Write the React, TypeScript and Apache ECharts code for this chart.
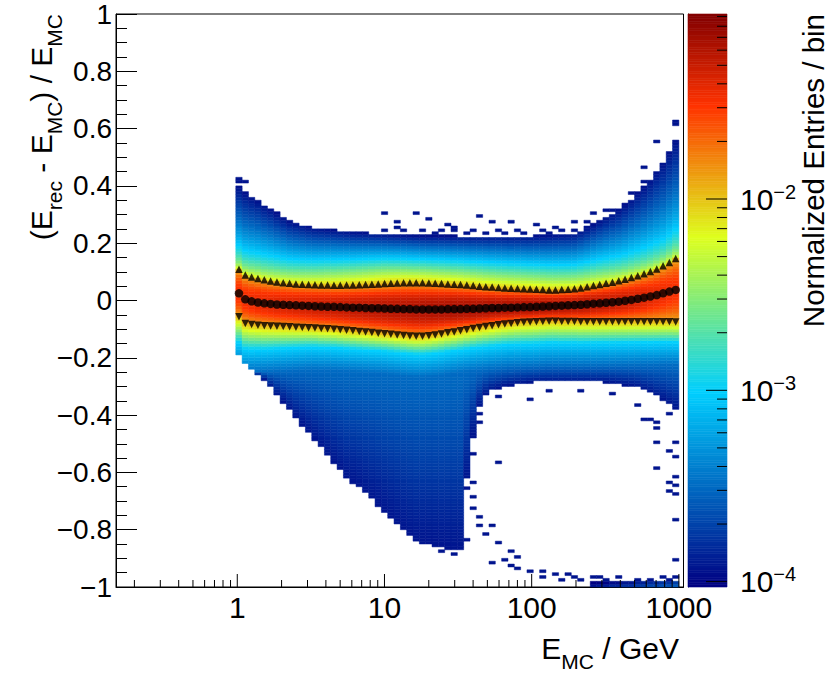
import React, { useEffect, useRef } from "react";
import * as echarts from "echarts";

const FONT = '"Liberation Sans", Arial, Helvetica, sans-serif';

// ---------- binning of the 2D histogram ----------
const xBinLogLo = -0.01;
const xBinLogHi = 3.0;
const xBinCount = 70;
const yBinLo = -1;
const yBinHi = 1;
const yBinCount = 200;

// ---------- colour (z) scale, log10 of normalized entries ----------
const zLogMin = -4.028;
const zLogMax = -1.033;
const paletteStops = [0, 0.34, 0.61, 0.84, 1];
const paletteRGB = [
  [0, 0, 130],
  [0, 207, 255],
  [222, 255, 31],
  [255, 51, 0],
  [130, 0, 0],
];

// ---------- profile markers (one per x bin) ----------
const meanValues = [
  0.025, 0.004, -0.003, -0.007, -0.01, -0.012, -0.014, -0.015, -0.016, -0.017,
  -0.018, -0.019, -0.02, -0.021, -0.022, -0.022, -0.023, -0.024, -0.025, -0.025,
  -0.026, -0.027, -0.027, -0.028, -0.029, -0.029, -0.03, -0.03, -0.031, -0.031,
  -0.031, -0.031, -0.031, -0.03, -0.03, -0.03, -0.029, -0.029, -0.028, -0.027,
  -0.026, -0.026, -0.025, -0.025, -0.024, -0.023, -0.023, -0.022, -0.021, -0.02,
  -0.019, -0.018, -0.017, -0.016, -0.015, -0.013, -0.011, -0.01, -0.008, -0.006,
  -0.004, -0.001, 0.002, 0.006, 0.01, 0.014, 0.019, 0.025, 0.031, 0.037,
];
const upperValues = [
  0.109, 0.089, 0.082, 0.077, 0.072, 0.068, 0.065, 0.062, 0.06, 0.058,
  0.057, 0.056, 0.055, 0.054, 0.054, 0.053, 0.053, 0.054, 0.054, 0.055,
  0.056, 0.057, 0.058, 0.059, 0.06, 0.061, 0.062, 0.062, 0.062, 0.062,
  0.061, 0.06, 0.059, 0.058, 0.057, 0.056, 0.054, 0.052, 0.05, 0.048,
  0.047, 0.045, 0.044, 0.043, 0.042, 0.041, 0.04, 0.039, 0.038, 0.037,
  0.037, 0.038, 0.039, 0.041, 0.044, 0.048, 0.052, 0.056, 0.06, 0.064,
  0.069, 0.074, 0.08, 0.086, 0.093, 0.101, 0.11, 0.121, 0.133, 0.147,
];
const lowerValues = [
  -0.057, -0.08, -0.084, -0.086, -0.088, -0.089, -0.09, -0.091, -0.092, -0.093,
  -0.094, -0.095, -0.096, -0.098, -0.099, -0.1, -0.102, -0.104, -0.106, -0.108,
  -0.11, -0.112, -0.114, -0.116, -0.118, -0.12, -0.122, -0.124, -0.125, -0.125,
  -0.123, -0.12, -0.117, -0.113, -0.11, -0.106, -0.102, -0.098, -0.094, -0.091,
  -0.088, -0.085, -0.082, -0.08, -0.078, -0.076, -0.075, -0.074, -0.073, -0.072,
  -0.072, -0.073, -0.073, -0.073, -0.074, -0.074, -0.074, -0.074, -0.074, -0.074,
  -0.074, -0.074, -0.074, -0.074, -0.074, -0.074, -0.074, -0.074, -0.074, -0.075,
];

// ---------- shape of the distribution, read at log10(E_MC) positions ----------
const topEdgeLogE = [0.012, 0.055, 0.098, 0.141, 0.184, 0.227, 0.27, 0.313, 0.356, 0.5, 0.75, 1.0, 1.25, 1.5, 2.0, 2.3, 2.4, 2.5, 2.6, 2.7, 2.8, 2.9, 2.98];
const topEdgeY = [0.4, 0.376, 0.362, 0.35, 0.333, 0.32, 0.305, 0.29, 0.277, 0.255, 0.24, 0.232, 0.226, 0.225, 0.225, 0.235, 0.26, 0.29, 0.32, 0.365, 0.42, 0.49, 0.56];

const bottomEdgeLogE = [0.012, 0.055, 0.1, 0.174, 0.288, 0.4, 0.514, 0.627, 0.74, 0.854, 0.967, 1.08, 1.217, 1.35, 1.5, 1.53, 1.56, 1.61, 1.65, 1.7, 1.8, 2.0, 2.5, 2.7, 2.8, 2.9, 2.98];
const bottomEdgeY = [-0.185, -0.225, -0.245, -0.27, -0.34, -0.41, -0.48, -0.55, -0.62, -0.665, -0.72, -0.78, -0.845, -0.86, -0.875, -0.87, -0.62, -0.44, -0.36, -0.32, -0.3, -0.285, -0.285, -0.3, -0.32, -0.35, -0.38];

const peakLogE = [0, 0.3, 0.7, 1.0, 1.5, 2.0, 2.4, 2.7, 3.0];
const peakLevel = [-1.48, -1.36, -1.27, -1.22, -1.17, -1.17, -1.22, -1.33, -1.5];

const upperTailLogE = [0, 0.3, 0.7, 1.0, 1.5, 2.0, 2.3, 2.6, 2.9, 3.0];
const upperTailShape = [0.5, 0.65, 0.85, 0.95, 0.9, 0.85, 0.78, 0.6, 0.46, 0.45];

const lowerGapLogE = [0, 0.2, 0.5, 1.0, 1.5, 2.0, 3.0];
const lowerGapWidth = [0.09, 0.08, 0.065, 0.06, 0.065, 0.075, 0.07];

const levelAtTriangles = -1.95;
const levelAtCyan = -3.0;
const levelPlateau = -3.5;
const plateauDrop = 0.08;
const levelAtEdge = -3.95;
const levelAtBottom = -3.93;

// bottom strip near -1 (first x bin index and levels per bin)
const stripFirstBin = 56;
const stripLevels = [-3.95, -3.9, -3.9, -3.85, -3.85, -3.8, -3.8, -3.75, -3.75, -3.7, -3.7, -3.65, -3.65, -3.6];

// isolated, sparsely filled bins [E_MC (GeV), (E_rec-E_MC)/E_MC]
const sparseBins: [number, number][] = [
  [1.03, 0.425], [1.03, 0.415], [1.13, 0.415],
  [10.5, 0.3], [11.7, 0.277], [16.6, 0.306], [19.5, 0.28], [20.4, 0.28],
  [10.5, 0.245], [12.5, 0.255], [14, 0.24], [17.5, 0.245], [22, 0.235], [25, 0.245],
  [27, 0.265], [29, 0.25], [31, 0.24], [36, 0.235], [40, 0.245], [48, 0.235],
  [44.7, 0.29], [54, 0.27], [60, 0.245], [66, 0.235], [71, 0.27], [80, 0.245],
  [90, 0.235], [107, 0.265], [118, 0.24], [135, 0.235], [150, 0.25], [168, 0.24],
  [190, 0.27], [205, 0.245], [230, 0.25], [250, 0.275],
  [257, 0.3], [316, 0.31], [355, 0.31], [400, 0.315], [470, 0.31], [468, 0.375],
  [576, 0.41], [590, 0.46], [708, 0.555], [933, 0.62], [933, 0.61],
  [96.6, -0.347], [60, -0.335], [64, -0.3], [132, -0.32], [214, -0.32], [355, -0.33], [513, -0.365],
  [59, -0.57], [40, -0.535], [40, -0.48], [44.7, -0.4], [44.7, -0.43],
  [38, -0.61], [38, -0.66], [40, -0.69], [42, -0.64],
  [603, -0.417], [661, -0.42], [741, -0.43], [741, -0.45], [871, -0.4],
  [708, -0.5], [708, -0.585], [933, -0.5], [933, -0.545], [871, -0.53], [933, -0.615],
  [933, -0.65], [871, -0.635], [871, -0.67], [933, -0.675], [933, -0.77], [933, -0.91],
  [40, -0.73], [44.7, -0.755], [44.7, -0.785], [54, -0.79], [49, -0.82], [38, -0.835],
  [60, -0.85], [72, -0.875], [78, -0.895], [68, -0.91], [56, -0.92], [71, -0.93],
  [83, -0.94], [98, -0.945], [117, -0.95], [117, -0.965], [141, -0.955], [174, -0.955],
  [158, -0.975], [191, -0.97], [219, -0.975], [257, -0.97], [280, -0.965], [330, -0.975],
  [400, -0.965], [520, -0.975], [640, -0.975], [780, -0.965], [900, -0.975], [950, -0.965],
  [25, -0.88], [30, -0.885],
];
const sparseLevel = -3.93;

// ---------- axis ticks ----------
const xAxisMin = 0.15;
const xAxisMax = 1075;
const xMajorTicks = [1, 10, 100, 1000];
const xMinorDecades = [0.1, 1, 10, 100];
const minorMultipliers = [2, 3, 4, 5, 6, 7, 8, 9];
const zMajorTicks = [1e-4, 1e-3, 1e-2];
const zMinorDecades = [1e-4, 1e-3, 1e-2];

// ---------- helpers ----------
function interp(u: number, us: number[], vs: number[]): number {
  if (u <= us[0]) return vs[0];
  for (let k = 1; k < us.length; k++) {
    if (u <= us[k]) {
      const t = (u - us[k - 1]) / (us[k] - us[k - 1]);
      return vs[k - 1] + t * (vs[k] - vs[k - 1]);
    }
  }
  return vs[vs.length - 1];
}

function colorFor(L: number): string {
  let f = (L - zLogMin) / (zLogMax - zLogMin);
  f = Math.max(0, Math.min(1, f));
  let k = 1;
  while (k < paletteStops.length - 1 && f > paletteStops[k]) k++;
  const t = (f - paletteStops[k - 1]) / (paletteStops[k] - paletteStops[k - 1]);
  const a = paletteRGB[k - 1];
  const b = paletteRGB[k];
  const c = a.map((v, idx) => Math.round(v + t * (b[idx] - v)));
  return `rgb(${c[0]},${c[1]},${c[2]})`;
}

const xBinWidth = (xBinLogHi - xBinLogLo) / xBinCount;
const yBinWidth = (yBinHi - yBinLo) / yBinCount;
const binCenterLog = (i: number) => xBinLogLo + (i + 0.5) * xBinWidth;

function levelAt(i: number, y: number): number | null {
  const u = binCenterLog(i);
  const m = meanValues[i];
  const up = upperValues[i];
  const dn = lowerValues[i];
  const top = interp(u, topEdgeLogE, topEdgeY);
  const bot = interp(u, bottomEdgeLogE, bottomEdgeY);
  if (y > top || y < bot) return null;
  const Lp = interp(u, peakLogE, peakLevel);
  if (y >= m) {
    if (y <= up) {
      const t = (y - m) / (up - m);
      return Lp - (Lp - levelAtTriangles) * t * t;
    }
    const s = (y - up) / (top - up);
    const q = interp(u, upperTailLogE, upperTailShape);
    return levelAtTriangles + (levelAtEdge - levelAtTriangles) * Math.pow(s, q);
  }
  if (y >= dn) {
    const t = (m - y) / (m - dn);
    return Lp - (Lp - levelAtTriangles) * t * t;
  }
  const gap = interp(u, lowerGapLogE, lowerGapWidth);
  const k1 = dn - gap;
  if (y >= k1) return levelAtTriangles + (levelAtCyan - levelAtTriangles) * (dn - y) / gap;
  const k2 = k1 - plateauDrop;
  if (y >= k2) return levelAtCyan + (levelPlateau - levelAtCyan) * (k1 - y) / plateauDrop;
  return levelPlateau + (levelAtBottom - levelPlateau) * (k2 - y) / Math.max(1e-6, k2 - bot);
}

function buildCells(): number[][] {
  const cells: number[][] = [];
  const filled = new Set<number>();
  const push = (i: number, j: number, L: number) => {
    const key = i * 1000 + j;
    if (filled.has(key) || i < 0 || i >= xBinCount || j < 0 || j >= yBinCount) return;
    filled.add(key);
    const x0 = Math.pow(10, xBinLogLo + i * xBinWidth);
    const x1 = Math.pow(10, xBinLogLo + (i + 1) * xBinWidth);
    const y0 = yBinLo + j * yBinWidth;
    const y1 = y0 + yBinWidth;
    cells.push([x0, x1, y0, y1, L]);
  };
  for (let i = 0; i < xBinCount; i++) {
    for (let j = 0; j < yBinCount; j++) {
      const yc = yBinLo + (j + 0.5) * yBinWidth;
      const L = levelAt(i, yc);
      if (L !== null && L >= zLogMin) push(i, j, L);
    }
  }
  stripLevels.forEach((L, k) => {
    push(stripFirstBin + k, 0, L);
    push(stripFirstBin + k, 1, L - 0.12);
  });
  sparseBins.forEach(([e, y]) => {
    const i = Math.floor((Math.log10(e) - xBinLogLo) / xBinWidth);
    const j = Math.floor((y - yBinLo) / yBinWidth + 1e-9);
    push(i, j, sparseLevel);
  });
  return cells;
}

const isPow10 = (v: number) => {
  const l = Math.log10(v);
  return Math.abs(l - Math.round(l)) < 1e-6;
};

function buildOption(): any {
  const cells = buildCells();
  const centers = meanValues.map((_, i) => Math.pow(10, binCenterLog(i)));

  const xTickData: number[][] = xMajorTicks.map((v) => [v, 13]);
  xMinorDecades.forEach((d) =>
    minorMultipliers.forEach((mlt) => {
      const v = d * mlt;
      if (v > xAxisMin && v < xAxisMax) xTickData.push([v, 7]);
    })
  );
  const zMax = Math.pow(10, zLogMax);
  const zMin = Math.pow(10, zLogMin);
  const zTickData: number[][] = zMajorTicks.map((v) => [1, v, 21]);
  zMinorDecades.forEach((d) =>
    minorMultipliers.forEach((mlt) => {
      const v = d * mlt;
      if (v < zMax) zTickData.push([1, v, 10]);
    })
  );

  const barSteps = 240;
  const barData: number[][] = [];
  for (let k = 0; k < barSteps; k++) {
    const l0 = zLogMin + (k * (zLogMax - zLogMin)) / barSteps;
    const l1 = zLogMin + ((k + 1) * (zLogMax - zLogMin)) / barSteps;
    barData.push([0.5, Math.pow(10, l0), Math.pow(10, l1), (l0 + l1) / 2]);
  }

  const markerData = (vals: number[]) => vals.map((v, i) => [centers[i], v]);

  return {
    animation: false,
    backgroundColor: "#ffffff",
    grid: [
      { left: 116, top: 14, width: 567.5, height: 573, show: true, borderColor: "#000", borderWidth: 1, backgroundColor: "transparent" },
      { left: 688, top: 14, width: 39, height: 573, show: false },
    ],
    xAxis: [
      {
        type: "log",
        logBase: 10,
        gridIndex: 0,
        min: xAxisMin,
        max: xAxisMax,
        axisLine: { show: true, onZero: false, lineStyle: { color: "#000", width: 1 } },
        axisTick: { show: false },
        splitLine: { show: false },
        axisLabel: {
          formatter: (v: number) => (isPow10(v) ? String(Math.round(v)) : ""),
          fontSize: 30,
          fontFamily: FONT,
          color: "#000",
          margin: 5,
        },
      },
      { type: "value", gridIndex: 1, min: 0, max: 1, show: false },
    ],
    yAxis: [
      {
        type: "value",
        gridIndex: 0,
        min: -1,
        max: 1,
        interval: 0.2,
        axisLine: { show: true, lineStyle: { color: "#000", width: 1 } },
        axisTick: { show: true, inside: true, length: 21, lineStyle: { color: "#000", width: 1 } },
        minorTick: { show: true, splitNumber: 4, length: 11, lineStyle: { color: "#000", width: 1 } },
        splitLine: { show: false },
        axisLabel: {
          formatter: (v: number) => {
            if (Math.abs(v) < 1e-9) return "0";
            const s = Math.abs(v - Math.round(v)) < 1e-9 ? String(Math.round(v)) : v.toFixed(1);
            return s.replace("-", "\u2212");
          },
          fontSize: 28,
          fontFamily: FONT,
          color: "#000",
          margin: 4,
        },
      },
      {
        type: "log",
        logBase: 10,
        gridIndex: 1,
        position: "right",
        min: zMin,
        max: zMax,
        axisLine: { show: true, lineStyle: { color: "#000", width: 1 } },
        axisTick: { show: false },
        splitLine: { show: false },
        axisLabel: {
          formatter: (v: number) => (isPow10(v) ? "10{p|\u2212" + String(-Math.round(Math.log10(v))) + "}" : ""),
          fontSize: 30,
          fontFamily: FONT,
          color: "#000",
          margin: 13,
          rich: { p: { fontSize: 20, fontFamily: FONT, color: "#000", padding: [0, 0, 15, 0] } },
        },
      },
    ],
    series: [
      {
        type: "custom",
        name: "hist",
        coordinateSystem: "cartesian2d",
        xAxisIndex: 0,
        yAxisIndex: 0,
        dimensions: ["x0", "x1", "y0", "y1", "level"],
        encode: { x: [0, 1], y: [2, 3] },
        data: cells,
        clip: true,
        silent: true,
        z: 1,
        renderItem: (params: any, api: any) => {
          const p0 = api.coord([api.value(0), api.value(3)]);
          const p1 = api.coord([api.value(1), api.value(2)]);
          const c = colorFor(api.value(4));
          return {
            type: "rect",
            shape: { x: p0[0], y: p0[1], width: p1[0] - p0[0], height: p1[1] - p0[1] },
            style: { fill: c, stroke: c, lineWidth: 0.5 },
          };
        },
      },
      {
        type: "scatter",
        name: "upper",
        xAxisIndex: 0,
        yAxisIndex: 0,
        data: markerData(upperValues),
        symbol: "triangle",
        symbolSize: 7.5,
        itemStyle: { color: "#000" },
        silent: true,
        z: 5,
      },
      {
        type: "scatter",
        name: "lower",
        xAxisIndex: 0,
        yAxisIndex: 0,
        data: markerData(lowerValues),
        symbol: "triangle",
        symbolRotate: 180,
        symbolSize: 7.5,
        itemStyle: { color: "#000" },
        silent: true,
        z: 5,
      },
      {
        type: "scatter",
        name: "mean",
        xAxisIndex: 0,
        yAxisIndex: 0,
        data: markerData(meanValues),
        symbol: "circle",
        symbolSize: 8.5,
        itemStyle: { color: "#000" },
        silent: true,
        z: 6,
      },
      {
        type: "custom",
        name: "xticks",
        coordinateSystem: "cartesian2d",
        xAxisIndex: 0,
        yAxisIndex: 0,
        dimensions: ["v", "len"],
        encode: { x: 0, y: 1 },
        data: xTickData,
        clip: false,
        silent: true,
        z: 10,
        renderItem: (params: any, api: any) => {
          const p = api.coord([api.value(0), -1]);
          return {
            type: "line",
            shape: { x1: p[0], y1: p[1], x2: p[0], y2: p[1] - api.value(1) },
            style: { stroke: "#000", lineWidth: 1 },
          };
        },
      },
      {
        type: "custom",
        name: "palette",
        coordinateSystem: "cartesian2d",
        xAxisIndex: 1,
        yAxisIndex: 1,
        dimensions: ["x", "lo", "hi", "level"],
        encode: { x: 0, y: [1, 2] },
        data: barData,
        clip: false,
        silent: true,
        z: 1,
        renderItem: (params: any, api: any) => {
          const p0 = api.coord([0, api.value(2)]);
          const p1 = api.coord([1, api.value(1)]);
          const c = colorFor(api.value(3));
          return {
            type: "rect",
            shape: { x: p0[0], y: p0[1], width: p1[0] - p0[0], height: p1[1] - p0[1] },
            style: { fill: c, stroke: c, lineWidth: 0.6 },
          };
        },
      },
      {
        type: "custom",
        name: "zticks",
        coordinateSystem: "cartesian2d",
        xAxisIndex: 1,
        yAxisIndex: 1,
        dimensions: ["x", "v", "len"],
        encode: { x: 0, y: 1 },
        data: zTickData,
        clip: false,
        silent: true,
        z: 10,
        renderItem: (params: any, api: any) => {
          const p = api.coord([1, api.value(1)]);
          return {
            type: "line",
            shape: { x1: p[0], y1: p[1], x2: p[0] - api.value(2), y2: p[1] },
            style: { stroke: "#000", lineWidth: 1 },
          };
        },
      },
    ],
    graphic: [
      {
        type: "text",
        x: 41,
        y: 14,
        rotation: Math.PI / 2,
        silent: true,
        style: {
          text: "(E{s|rec} - E{s|MC}) / E{s|MC}",
          fontSize: 30,
          fontFamily: FONT,
          fill: "#000",
          align: "right",
          verticalAlign: "middle",
          rich: { s: { fontSize: 21, fontFamily: FONT, fill: "#000", padding: [26, 0, 0, 0] } },
        },
      },
      {
        type: "text",
        x: 679,
        y: 648,
        silent: true,
        style: {
          text: "E{s|MC} / GeV",
          fontSize: 30,
          fontFamily: FONT,
          fill: "#000",
          align: "right",
          verticalAlign: "middle",
          rich: { s: { fontSize: 21, fontFamily: FONT, fill: "#000", padding: [26, 0, 0, 0] } },
        },
      },
      {
        type: "text",
        x: 813,
        y: 14,
        rotation: Math.PI / 2,
        silent: true,
        style: {
          text: "Normalized Entries / bin",
          fontSize: 29.5,
          fontFamily: FONT,
          fill: "#000",
          align: "right",
          verticalAlign: "middle",
        },
      },
    ],
  };
}

export default function App() {
  const ref = useRef<HTMLDivElement>(null);
  useEffect(() => {
    if (!ref.current) return;
    const chart = echarts.init(ref.current, null, { renderer: "svg" });
    chart.setOption(buildOption());
    return () => chart.dispose();
  }, []);
  return (
    <div
      ref={ref}
      style={{ position: "absolute", left: 0, top: 0, width: 830, height: 675, background: "#fff" }}
    />
  );
}
